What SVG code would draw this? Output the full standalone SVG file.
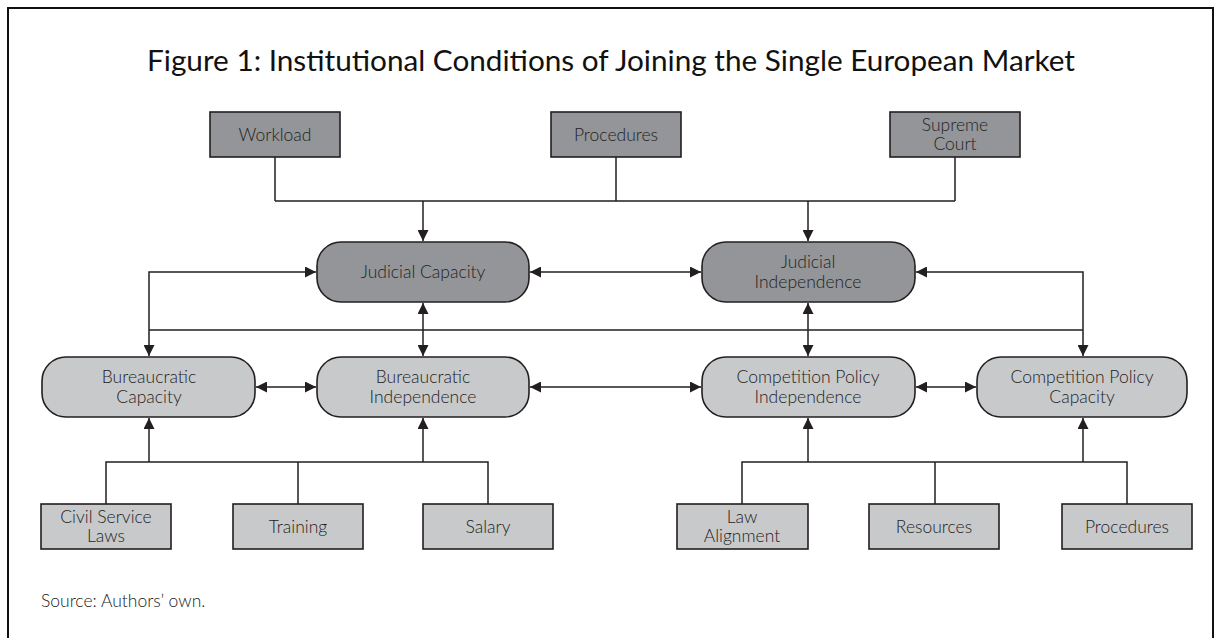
<svg xmlns="http://www.w3.org/2000/svg" width="1221" height="638" viewBox="0 0 1221 638">
<defs>
<style>
.frame{fill:none;stroke:#111;stroke-width:2}
.title{font-family:Lato,"Liberation Sans",sans-serif;font-size:28px;fill:#111;text-anchor:middle}
.lbl{font-family:Lato,"Liberation Sans",sans-serif;font-weight:300;font-size:17.5px;fill:#222;text-anchor:middle}
.src{font-family:Lato,"Liberation Sans",sans-serif;font-weight:300;font-size:17.5px;fill:#1a1a1a}
.dark{fill:#939598;stroke:#231f20;stroke-width:1.6}
.light{fill:#c8c9cb;stroke:#231f20;stroke-width:1.6}
.ln{fill:none;stroke:#231f20;stroke-width:1.5}
</style>
<marker id="ah" viewBox="0 0 10 10" refX="10" refY="5" markerWidth="11" markerHeight="11" markerUnits="userSpaceOnUse" orient="auto-start-reverse">
<path d="M0,0 L10,5 L0,10 z" fill="#231f20"/>
</marker>
</defs>
<rect width="1221" height="638" fill="#fff"/>
<path class="frame" d="M8,638 V8 H1213 V638"/>
<text class="title" x="611" y="71" textLength="928" lengthAdjust="spacingAndGlyphs">Figure 1: Institutional Conditions of Joining the Single European Market</text>

<g id="connectors">
<path class="ln" d="M275,157 V201 M616,157 V201 M955,157 V201 M275,201 H955"/>
<path class="ln" d="M423,201 V241" marker-end="url(#ah)"/>
<path class="ln" d="M808,201 V241" marker-end="url(#ah)"/>
<path class="ln" d="M530,272 H701" marker-start="url(#ah)" marker-end="url(#ah)"/>
<path class="ln" d="M316,272 H149 V356" marker-start="url(#ah)" marker-end="url(#ah)"/>
<path class="ln" d="M916,272 H1083 V356" marker-start="url(#ah)" marker-end="url(#ah)"/>
<path class="ln" d="M149,330 H1083"/>
<path class="ln" d="M423,303 V356" marker-start="url(#ah)" marker-end="url(#ah)"/>
<path class="ln" d="M808,303 V356" marker-start="url(#ah)" marker-end="url(#ah)"/>
<path class="ln" d="M256,387 H316" marker-start="url(#ah)" marker-end="url(#ah)"/>
<path class="ln" d="M530,387 H701" marker-start="url(#ah)" marker-end="url(#ah)"/>
<path class="ln" d="M916,387 H976" marker-start="url(#ah)" marker-end="url(#ah)"/>
<path class="ln" d="M106,504 V462 H488 V504 M298,462 V504"/>
<path class="ln" d="M149,462 V418" marker-end="url(#ah)"/>
<path class="ln" d="M423,462 V418" marker-end="url(#ah)"/>
<path class="ln" d="M742,504 V462 H1127 V504 M935,462 V504"/>
<path class="ln" d="M808,462 V418" marker-end="url(#ah)"/>
<path class="ln" d="M1083,462 V418" marker-end="url(#ah)"/>
</g>

<g id="workload"><rect class="dark" x="210" y="112" width="130" height="45"/><text class="lbl" x="275" y="141">Workload</text></g>
<g id="procedures-top"><rect class="dark" x="551" y="112" width="130" height="45"/><text class="lbl" x="616" y="141">Procedures</text></g>
<g id="supreme-court"><rect class="dark" x="890" y="112" width="130" height="45"/><text class="lbl" x="955" y="131">Supreme</text><text class="lbl" x="955" y="150">Court</text></g>

<g id="judicial-capacity"><rect class="dark" x="317" y="242" width="212" height="60" rx="24"/><text class="lbl" x="423" y="278">Judicial Capacity</text></g>
<g id="judicial-independence"><rect class="dark" x="702" y="242" width="213" height="60" rx="24"/><text class="lbl" x="808" y="268">Judicial</text><text class="lbl" x="808" y="288">Independence</text></g>

<g id="bureaucratic-capacity"><rect class="light" x="42" y="357" width="213" height="60" rx="24"/><text class="lbl" x="149" y="383">Bureaucratic</text><text class="lbl" x="149" y="403">Capacity</text></g>
<g id="bureaucratic-independence"><rect class="light" x="317" y="357" width="212" height="60" rx="24"/><text class="lbl" x="423" y="383">Bureaucratic</text><text class="lbl" x="423" y="403">Independence</text></g>
<g id="cp-independence"><rect class="light" x="702" y="357" width="213" height="60" rx="24"/><text class="lbl" x="808" y="383">Competition Policy</text><text class="lbl" x="808" y="403">Independence</text></g>
<g id="cp-capacity"><rect class="light" x="977" y="357" width="210" height="60" rx="24"/><text class="lbl" x="1082" y="383">Competition Policy</text><text class="lbl" x="1082" y="403">Capacity</text></g>

<g id="civil-service-laws"><rect class="light" x="41" y="504" width="130" height="45"/><text class="lbl" x="106" y="523">Civil Service</text><text class="lbl" x="106" y="542">Laws</text></g>
<g id="training"><rect class="light" x="233" y="504" width="130" height="45"/><text class="lbl" x="298" y="533">Training</text></g>
<g id="salary"><rect class="light" x="423" y="504" width="130" height="45"/><text class="lbl" x="488" y="533">Salary</text></g>
<g id="law-alignment"><rect class="light" x="677" y="504" width="131" height="45"/><text class="lbl" x="742" y="523">Law</text><text class="lbl" x="742" y="542">Alignment</text></g>
<g id="resources"><rect class="light" x="869" y="504" width="130" height="45"/><text class="lbl" x="934" y="533">Resources</text></g>
<g id="procedures-bottom"><rect class="light" x="1062" y="504" width="130" height="45"/><text class="lbl" x="1127" y="533">Procedures</text></g>

<text class="src" x="41" y="607">Source: Authors’ own.</text>
</svg>
